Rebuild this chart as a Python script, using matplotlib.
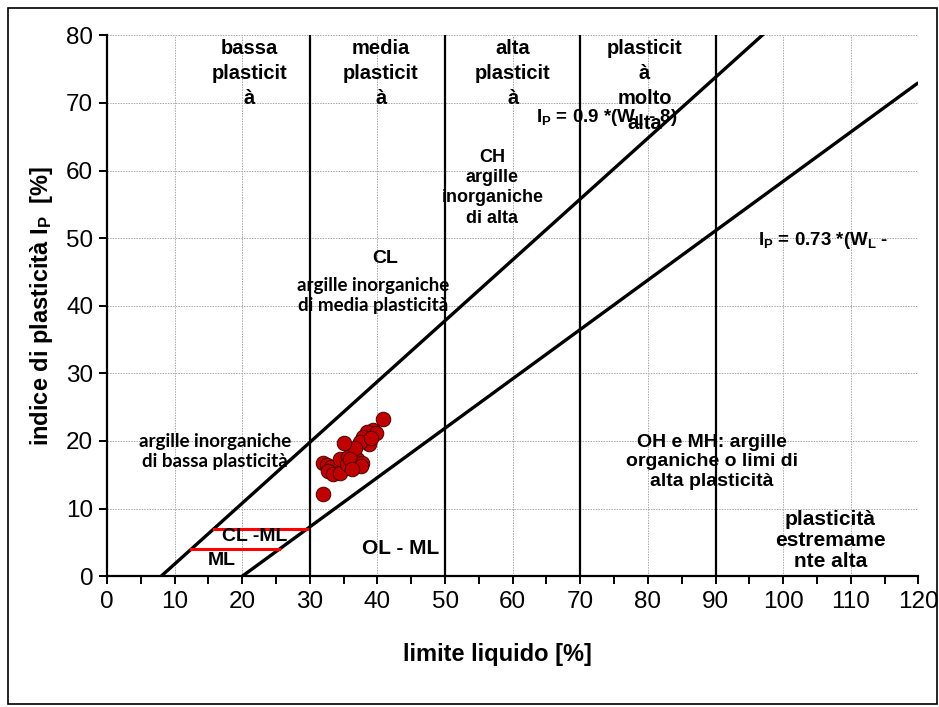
import matplotlib
matplotlib.use("Agg")
import matplotlib.pyplot as plt
import numpy as np
from matplotlib.patches import Rectangle
from matplotlib.ticker import MultipleLocator

plt.rcParams['font.family'] = ['Liberation Sans', 'DejaVu Sans']
plt.rcParams['mathtext.default'] = 'regular'

# Measured samples: liquid limit W_L [%] and plasticity index I_P [%]
wl = [32.0, 32.5, 33.1, 32.7, 33.4, 34.4, 34.4, 35.7, 35.5, 36.4, 36.9, 31.9,
      40.8, 39.4, 38.4, 39.8, 37.9, 38.7, 37.4, 36.7, 35.0, 36.0, 37.7, 37.6,
      36.2, 39.0]
ip = [16.7, 16.4, 16.1, 15.6, 15.1, 15.2, 17.4, 17.6, 16.6, 16.2, 17.4, 12.1,
      23.3, 21.6, 21.4, 21.2, 20.6, 19.6, 19.9, 18.9, 19.7, 17.4, 16.7, 16.3,
      15.9, 20.5]

# Casagrande chart reference lines
u_slope, u_offset = 0.9, 8      # U-line: I_P = 0.9 (W_L - 8)
a_slope, a_offset = 0.73, 20    # A-line: I_P = 0.73 (W_L - 20)
zone_limits = [30, 50, 70, 90]  # plasticity class boundaries on W_L
clml_ip = 7                     # CL-ML band upper bound
ml_ip = 4                       # CL-ML band lower bound

fig = plt.figure(figsize=(9.39, 7.07), dpi=100)
ax = fig.add_axes([0.114, 0.185, 0.864, 0.765])

ax.set_xlim(0, 120)
ax.set_ylim(0, 80)

# grid
ax.xaxis.set_major_locator(MultipleLocator(10))
ax.xaxis.set_minor_locator(MultipleLocator(5))
ax.yaxis.set_major_locator(MultipleLocator(10))
ax.grid(True, which='major', color='#a8a8a8', linestyle=(0, (1.5, 1.2)), linewidth=0.7)
ax.set_axisbelow(True)

# reference lines
x_u = np.array([u_offset, 120.0])
ax.plot(x_u, u_slope * (x_u - u_offset), color='black', lw=2.4, solid_capstyle='butt', zorder=3)
x_a = np.array([a_offset, 120.0])
ax.plot(x_a, a_slope * (x_a - a_offset), color='black', lw=2.4, solid_capstyle='butt', zorder=3)
for xv in zone_limits:
    ax.plot([xv, xv], [0, 80], color='black', lw=1.6, zorder=3)

# CL-ML band limits
for yv in (clml_ip, ml_ip):
    x0 = yv / u_slope + u_offset
    x1 = min(yv / a_slope + a_offset, 30)
    ax.plot([x0, x1], [yv, yv], color='#ff0000', lw=2.2, zorder=3)

# samples
ax.scatter(wl, ip, s=110, color='#c00000', edgecolors='#4a0000', linewidths=0.7, zorder=5)

# spines and ticks
for side in ('top', 'right'):
    ax.spines[side].set_visible(False)
for side in ('left', 'bottom'):
    ax.spines[side].set_linewidth(1.6)
ax.tick_params(axis='both', which='both', direction='out', length=6, width=1.4,
               labelsize=17.5, pad=4)
ax.tick_params(axis='x', which='major', pad=5)

ax.set_xlabel('limite liquido [%]', fontsize=17, fontweight='bold')
ax.xaxis.set_label_coords(0.481, -0.124)
ax.set_ylabel(r'indice di plasticità I$_{P}$  [%]', fontsize=17, fontweight='bold')
ax.yaxis.set_label_coords(-0.064, 0.5)

# zone captions
cap = dict(ha='center', va='top', fontsize=14.5, fontweight='bold', linespacing=1.4, zorder=6)
ax.text(21, 79.5, 'bassa\nplasticit\nà', **cap)
ax.text(40.5, 79.5, 'media\nplasticit\nà', **cap)
ax.text(60, 79.5, 'alta\nplasticit\nà', **cap)
ax.text(79.5, 79.5, 'plasticit\nà\nmolto\nalta', **cap)

ax.text(63.5, 67.9, r'I$_{P}$ = 0.9 *(W$_{L}$ - 8)', ha='left', va='center',
        fontsize=13.5, fontweight='bold', zorder=6)
ax.text(96.3, 49.7, r'I$_{P}$ = 0.73 *(W$_{L}$ -', ha='left', va='center',
        fontsize=13.5, fontweight='bold', zorder=6)

ax.text(57, 63.2, 'CH\nargille\ninorganiche\ndi alta', ha='center', va='top',
        fontsize=13, fontweight='bold', linespacing=1.25, zorder=6)
ax.text(41.1, 47.0, 'CL', ha='center', va='center', fontsize=14,
        fontweight='bold', zorder=6)
ax.text(39.4, 41.5, 'argille inorganiche\ndi media plasticità', ha='center',
        va='center', family=['Lato', 'DejaVu Sans'], fontsize=13.5, fontweight='bold',
        linespacing=1.2, zorder=6)
ax.text(16.0, 18.5, 'argille inorganiche\ndi bassa plasticità', ha='center',
        va='center', family=['Lato', 'DejaVu Sans'], fontsize=13.5, fontweight='bold',
        linespacing=1.2, zorder=6)

ax.text(21.8, 5.9, 'CL -ML', ha='center', va='center', fontsize=14, fontweight='bold', zorder=6)
ax.text(16.9, 2.3, 'ML', ha='center', va='center', fontsize=14, fontweight='bold', zorder=6)
ax.text(43.4, 4.1, 'OL - ML', ha='center', va='center', fontsize=15, fontweight='bold', zorder=6)

ax.text(89.5, 16.9, 'OH e MH: argille\norganiche o limi di\nalta plasticità',
        ha='center', va='center', fontsize=14, fontweight='bold', linespacing=1.2, zorder=6)
ax.text(107, 5.3, 'plasticità\nestremame\nnte alta', ha='center', va='center',
        fontsize=15, fontweight='bold', linespacing=1.12, zorder=6)

# outer frame
fig.patches.append(Rectangle((8 / 939, 3 / 707), 929 / 939, 696 / 707,
                             transform=fig.transFigure, fill=False,
                             edgecolor='black', linewidth=1.2))

fig.savefig('out.png', dpi=100)
